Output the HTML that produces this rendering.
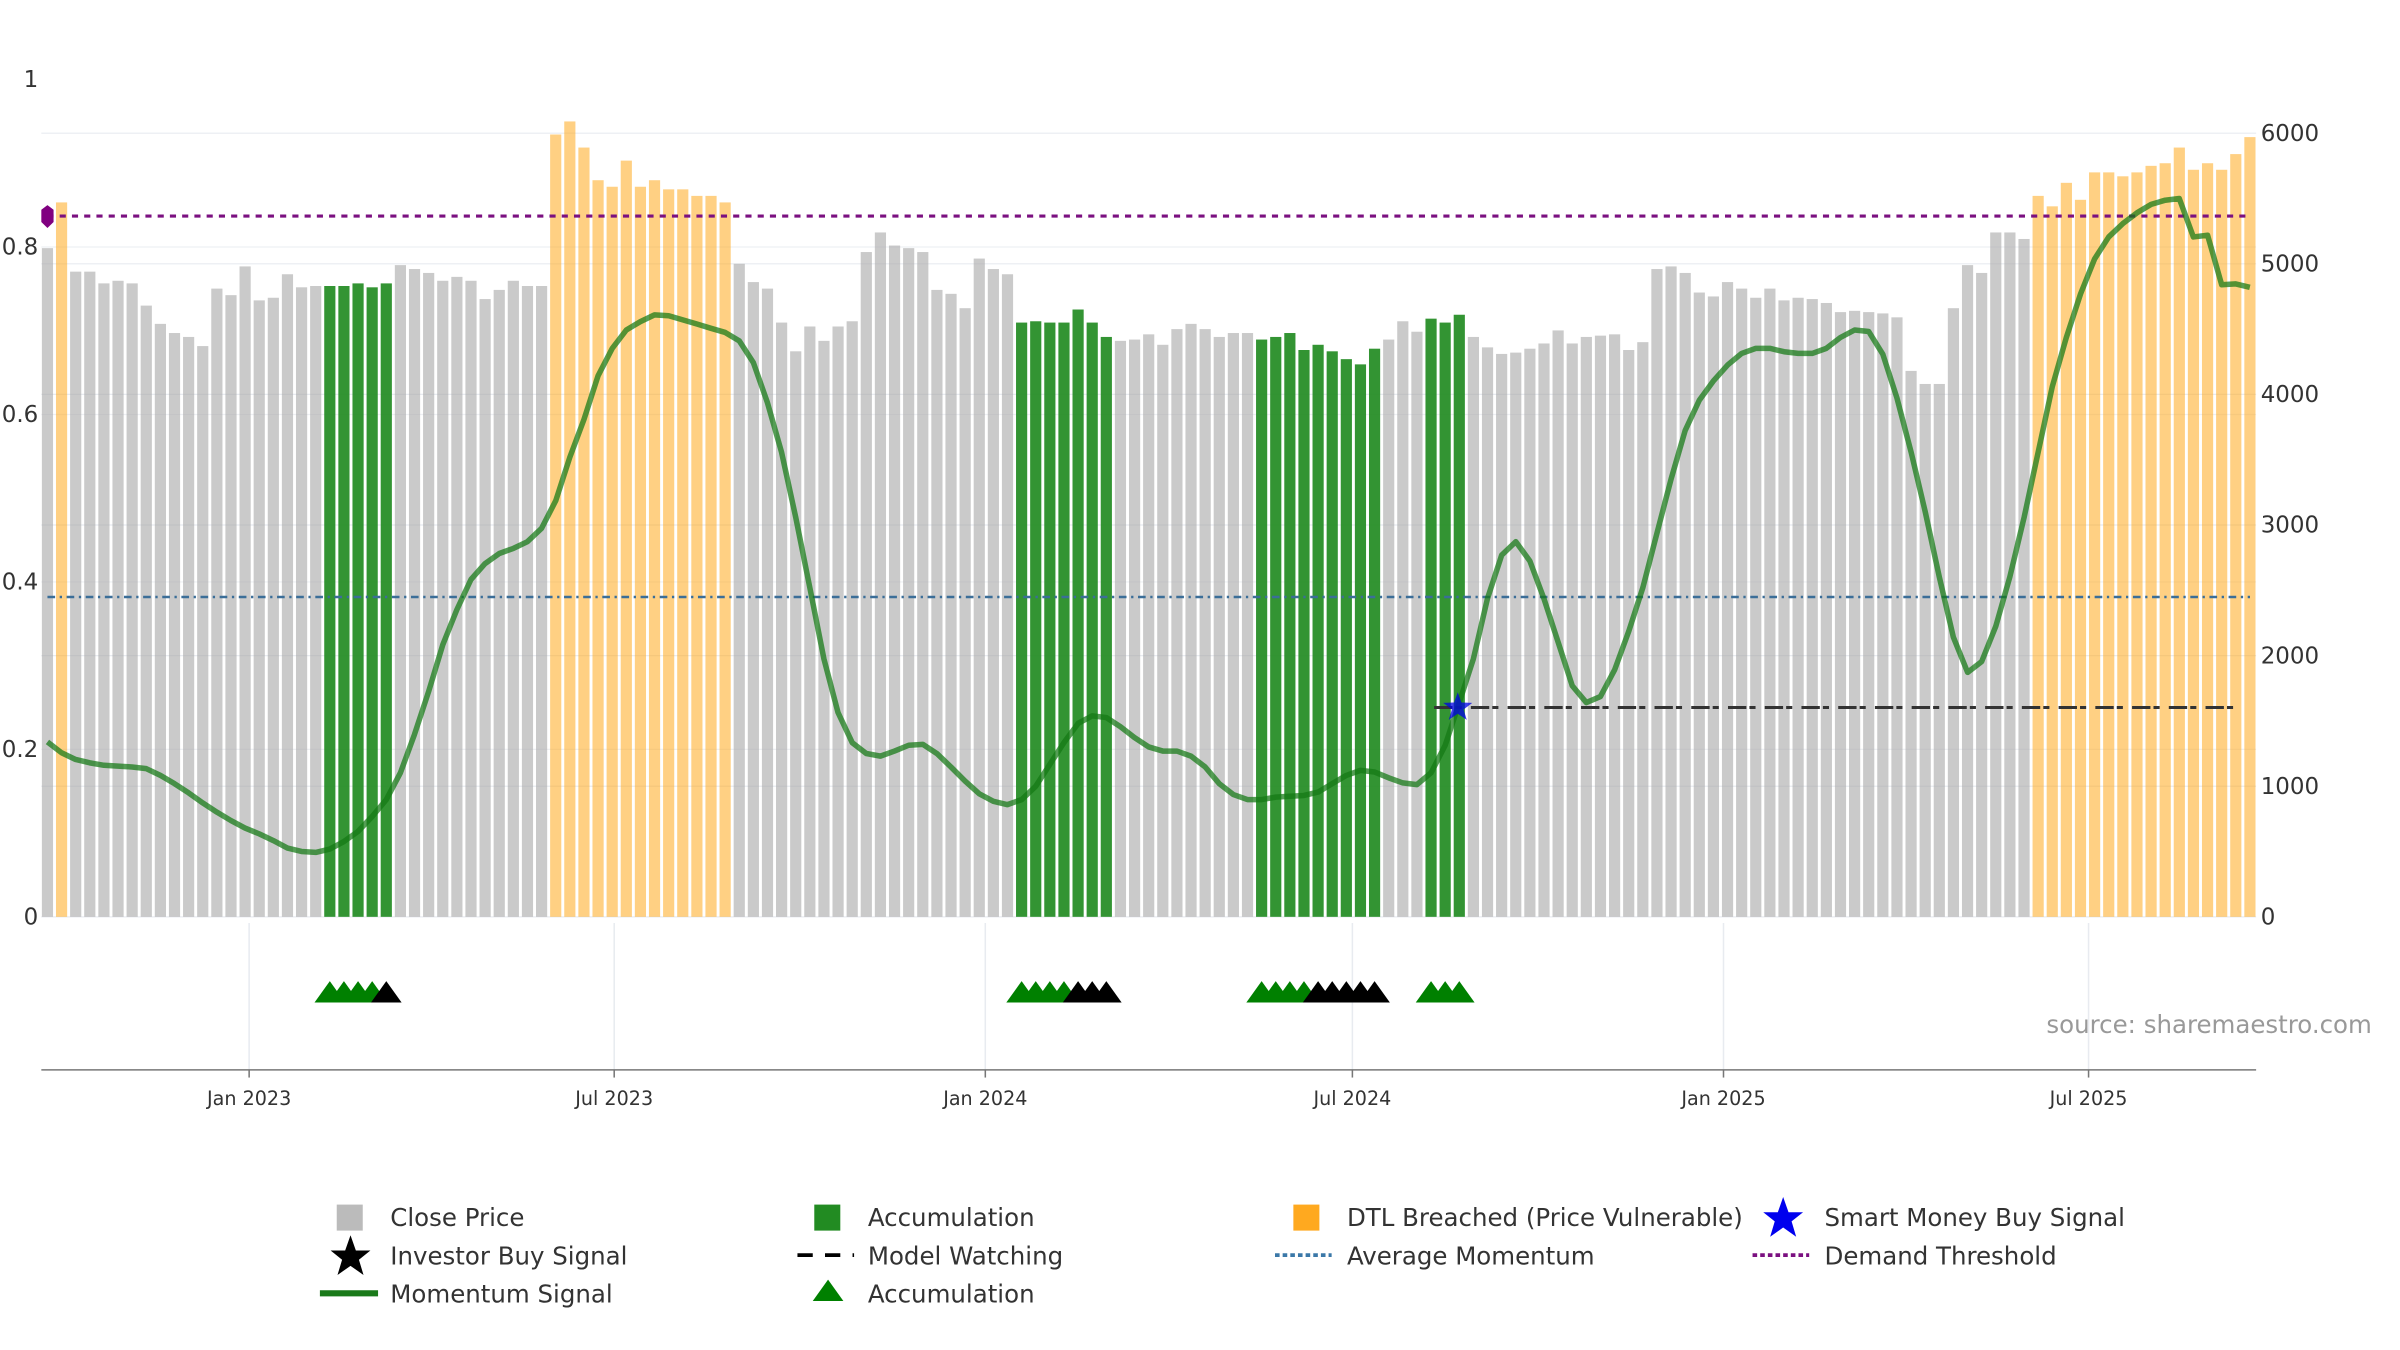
<!DOCTYPE html>
<html><head><meta charset="utf-8"><style>
html,body{margin:0;padding:0;background:#fff;}
svg{display:block;font-family:"DejaVu Sans","Liberation Sans",sans-serif;}
</style></head><body>
<svg id="chart" width="2400" height="1350" viewBox="0 0 1568 882" xmlns="http://www.w3.org/2000/svg">
<g id="grid"></g>
<g id="bars"></g>
<g id="refs"></g>
<g id="line"></g>
<g id="marks"></g>
<g id="axes"></g>
<text x="1337" y="675" font-size="16" fill="#999">source: sharemaestro.com</text>
<g id="legend" font-size="16" fill="#333">
 <g><rect x="220" y="787" width="17" height="17" fill="#bbb"/><text x="255" y="801">Close Price</text></g>
 <g><rect x="532" y="787" width="17" height="17" fill="#228b22"/><text x="567" y="801">Accumulation</text></g>
 <g><rect x="845" y="787" width="17" height="17" fill="#ffa91f"/><text x="880" y="801">DTL Breached (Price Vulnerable)</text></g>
 <g><polygon points="1165,782 1168.5,792 1178,792 1170.5,798 1173.5,808 1165,802 1156.5,808 1159.5,798 1152,792 1161.5,792" fill="#0000ee"/><text x="1192" y="801">Smart Money Buy Signal</text></g>
 <g><polygon points="229,807 232.5,817 242,817 234.5,823 237.5,833 229,827 220.5,833 223.5,823 216,817 225.5,817" fill="#000"/><text x="255" y="826">Investor Buy Signal</text></g>
 <g><line x1="521" y1="820" x2="558" y2="820" stroke="#000" stroke-width="2.5" stroke-dasharray="10,8"/><text x="567" y="826">Model Watching</text></g>
 <g><line x1="833" y1="820" x2="870" y2="820" stroke="#3b78a8" stroke-width="2.5" stroke-dasharray="3,2"/><text x="880" y="826">Average Momentum</text></g>
 <g><line x1="1145" y1="820" x2="1182" y2="820" stroke="#7b1080" stroke-width="2.5" stroke-dasharray="3,2"/><text x="1192" y="826">Demand Threshold</text></g>
 <g><line x1="209" y1="845" x2="247" y2="845" stroke="#1a7a1a" stroke-width="4"/><text x="255" y="851">Momentum Signal</text></g>
 <g><polygon points="541,836 551,850 531,850" fill="#008000"/><text x="567" y="851">Accumulation</text></g>
</g>
</svg>
<script>
const prices = [5120,5470,4940,4940,4850,4870,4850,4680,4540,4470,4440,4370,4810,4760,4980,4720,4740,4920,4820,4830,4830,4830,4850,4820,4850,4990,4960,4930,4870,4900,4870,4730,4800,4870,4830,4830,5990,6090,5890,5640,5590,5790,
5590,5640,5570,5570,5520,5520,5470,5000,4860,4810,4550,4330,4520,4410,4520,4560,5090,5240,5140,5120,5090,4800,4770,4660,5040,4960,4920,4550,4560,4550,4550,4650,4550,4440,4410,4420,4460,4380,4500,4540,4500,4440,
4470,4470,4420,4440,4470,4340,4380,4330,4270,4230,4350,4420,4560,4480,4580,4550,4610,4440,4360,4310,4320,4350,4390,4490,4390,4440,4450,4460,4340,4400,4960,4980,4930,4780,4750,4860,4810,4740,4810,4720,4740,
4730,4700,4630,4640,4630,4620,4590,4180,4080,4080,4660,4990,4930,5240,5240,5190,5520,5440,5620,5490,5700,5700,5670,5700,5750,5770,5890,5720,5770,5720,5840,5970];
const momentum = [0.209,0.196,0.188,0.184,0.181,0.180,0.179,0.177,0.169,0.159,0.148,0.136,0.125,0.115,0.106,0.099,0.091,0.082,0.078,0.077,0.081,0.090,0.102,0.120,0.140,0.172,0.218,0.269,0.325,0.367,0.403,0.422,0.434,0.440,0.448,0.464,0.497,0.549,0.594,0.646,0.679,0.701,
0.711,0.719,0.718,0.713,0.708,0.703,0.698,0.688,0.662,0.614,0.555,0.477,0.393,0.308,0.244,0.208,0.195,0.192,0.198,0.205,0.206,0.195,0.179,0.162,0.147,0.138,0.134,0.140,0.156,0.182,0.208,0.231,0.240,0.238,0.227,0.214,0.203,0.198,0.198,0.192,0.179,0.159,
0.146,0.140,0.140,0.143,0.144,0.145,0.149,0.159,0.169,0.175,0.173,0.166,0.160,0.158,0.172,0.205,0.256,0.308,0.380,0.432,0.448,0.425,0.380,0.328,0.276,0.256,0.263,0.295,0.341,0.393,0.458,0.523,0.581,0.617,0.640,0.659,0.673,0.679,0.679,0.675,0.673,
0.673,0.679,0.692,0.701,0.699,0.672,0.620,0.555,0.484,0.406,0.334,0.292,0.305,0.347,0.406,0.477,0.555,0.633,0.692,0.744,0.786,0.812,0.828,0.841,0.851,0.856,0.858,0.812,0.814,0.755,0.756,0.752];
const accumulationIdx = [20,21,22,23,24,69,70,71,72,73,74,75,86,87,88,89,90,91,92,93,94,98,99,100];
const dtlIdx = [1,36,37,38,39,40,41,42,43,44,45,46,47,48,141,142,143,144,145,146,147,148,149,150,151,152,153,154,155,156];
const accumTriangleIdx = [20,21,22,23,69,70,71,72,86,87,88,89,98,99,100];
const investorTriangleIdx = [24,73,74,75,90,91,92,93,94];
const smartMoneyIdx = [100];
const demandThreshold = 0.837;
const averageMomentum = 0.382;
const modelWatching = 0.25;
const modelWatchStartIdx = 98;
const startDate = "2022-09-23";
const xTickDates = ["2023-01-01","2023-07-01","2024-01-01","2024-07-01","2025-01-01","2025-07-01"];
const xTickLabels = ["Jan 2023","Jul 2023","Jan 2024","Jul 2024","Jan 2025","Jul 2025"];
const leftTicks = [0,0.2,0.4,0.6,0.8,1];
const leftTickLabels = ["0","0.2","0.4","0.6","0.8","1"];
const rightTicks = [0,1000,2000,3000,4000,5000,6000];

const NS="http://www.w3.org/2000/svg";
const X0=31, STEP=9.224, PL=27, PR=1474, YB=599;
const xi=i=>X0+i*STEP;
const t0=Date.parse(startDate);
const xd=d=>X0+(Date.parse(d)-t0)/86400000/7*STEP;
const yl=v=>YB-v*547;
const yr=v=>YB-v*0.08533;
function mk(tag,parent,attrs){const e=document.createElementNS(NS,tag);for(const k in attrs)e.setAttribute(k,attrs[k]);parent.appendChild(e);return e;}
const G=id=>document.getElementById(id);

rightTicks.forEach(v=>{const l=mk('line',G('grid'),{x1:PL,x2:PR,y1:yr(v),y2:yr(v),stroke:'#e8ebf0','stroke-width':0.8});

});
leftTicks.slice(1,5).forEach(v=>{const l=mk('line',G('grid'),{x1:PL,x2:PR,y1:yl(v),y2:yl(v),stroke:'#eef0f3','stroke-width':0.8});

});
xTickDates.forEach(d=>{const l=mk('line',G('grid'),{x1:xd(d),x2:xd(d),y1:603,y2:699,stroke:'#e8ebf0','stroke-width':1});

});

prices.forEach((p,i)=>{
 let fill='rgba(170,170,170,0.62)';
 if(accumulationIdx.includes(i)) fill='rgba(34,139,34,0.92)';
 else if(dtlIdx.includes(i)) fill='rgba(255,170,30,0.55)';
 const r=mk('rect',G('bars'),{x:xi(i)-3.65,y:yr(p),width:7.3,height:YB-yr(p),fill:fill});
 
 
});

let e;
e=mk('line',G('refs'),{x1:PL+4,x2:PR-4,y1:yl(demandThreshold),y2:yl(demandThreshold),stroke:'#7b1080','stroke-width':2,'stroke-dasharray':'4,4'});


e=mk('line',G('refs'),{x1:PL+4,x2:PR-4,y1:yl(averageMomentum),y2:yl(averageMomentum),stroke:'#3b6e98','stroke-width':1.6,'stroke-dasharray':'5,3,1.5,3'});


e=mk('line',G('refs'),{x1:xi(modelWatchStartIdx)+2,x2:xi(prices.length-1)-5,y1:yl(modelWatching),y2:yl(modelWatching),stroke:'#333','stroke-width':2,'stroke-dasharray':'12,2,4,6'});



const pts=momentum.map((v,i)=>xi(i).toFixed(1)+','+yl(v).toFixed(1)).join(' ');
e=mk('polyline',G('line'),{points:pts,fill:'none',stroke:'rgba(20,120,20,0.72)','stroke-width':3.6,'stroke-linejoin':'round'});



e=mk('polygon',G('marks'),{points:[[31,134],[35,137],[35,145],[31,149],[27,145],[27,137]].map(p=>p.join(',')).join(' '),fill:'#800080'});



function star(cx,cy,R,fill){const p=[];for(let k=0;k<10;k++){const a=-Math.PI/2+k*Math.PI/5;const r=k%2?R*0.4:R;p.push((cx+r*Math.cos(a)).toFixed(1)+','+(cy+r*Math.sin(a)).toFixed(1));}return mk('polygon',G('marks'),{points:p.join(' '),fill:fill});}
smartMoneyIdx.forEach(i=>{const s=star(xi(i)-1,yl(modelWatching),10,'rgba(0,0,230,0.75)');

});

function tri(i,fill){return mk('polygon',G('marks'),{points:`${xi(i)},${641} ${xi(i)+10},${655} ${xi(i)-10},${655}`,fill:fill});}
accumTriangleIdx.forEach(i=>{const t=tri(i,'#008000');

});
investorTriangleIdx.forEach(i=>{const t=tri(i,'#000');

});

e=mk('line',G('axes'),{x1:PL,x2:PR,y1:699,y2:699,stroke:'#777','stroke-width':1});


xTickDates.forEach((d,k)=>{
 const tk=mk('line',G('axes'),{x1:xd(d),x2:xd(d),y1:699,y2:704,stroke:'#777','stroke-width':1});
 
 
 const t=mk('text',G('axes'),{x:xd(d),y:722,'font-size':12.5,fill:'#333','text-anchor':'middle'});
 t.textContent=xTickLabels[k];
 
 
});
leftTicks.forEach((v,k)=>{
 const t=mk('text',G('axes'),{x:25,y:yl(v)+5,'font-size':15,fill:'#333','text-anchor':'end'});
 t.textContent=leftTickLabels[k];
 
 
});
rightTicks.forEach(v=>{
 const t=mk('text',G('axes'),{x:1477,y:yr(v)+5,'font-size':15,fill:'#333'});
 t.textContent=String(v);
 
 
});
</script>
</body></html>
